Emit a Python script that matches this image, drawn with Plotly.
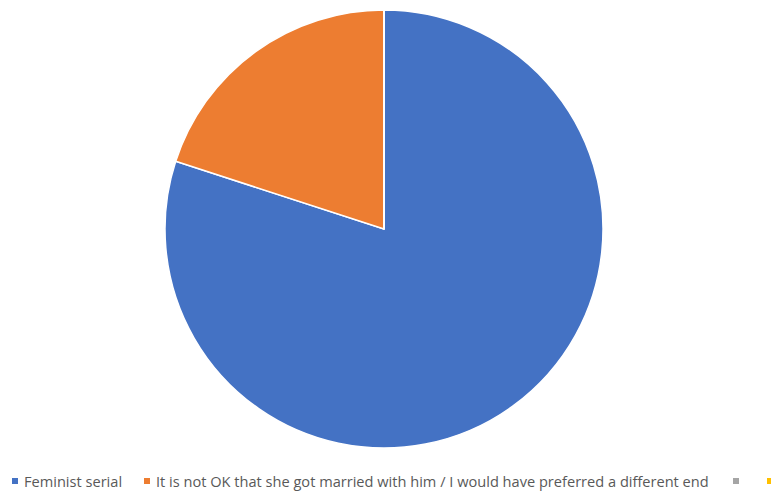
import plotly.graph_objects as go

labels = ["Feminist serial",
          "It is not OK that she got married with him / I would have preferred a different end",
          "", ""]
values = [80, 20, 0, 0]
colors = ["#4472C4", "#ED7D31", "#A5A5A5", "#FFC000"]

# page body has an 8px margin: the figure is drawn at (8, 8) in the 779x494 window
OFF = 8
W, H = 779 - OFF, 494 - OFF
cx, cy, r = 384 - OFF, 229 - OFF, 219


def px(x):
    return (x - OFF) / W


def py(y):
    return 1 - (y - OFF) / H


fig = go.Figure()
fig.add_trace(go.Pie(
    labels=[l if l else f"empty{i}" for i, l in enumerate(labels)],
    values=values,
    sort=False,
    direction="clockwise",
    rotation=0,
    textinfo="none",
    hoverinfo="label+value+percent",
    marker=dict(colors=colors, line=dict(color="white", width=1.5)),
    domain=dict(x=[(cx - r) / W, (cx + r) / W], y=[1 - (cy + r) / H, 1 - (cy - r) / H]),
    showlegend=False,
))

# manual legend (Excel style), positions in window pixels
marker_x = [12, 144, 733, 767]
ly = 481
shapes = []
annotations = []
for i, (lab, col) in enumerate(zip(labels, colors)):
    x0 = marker_x[i]
    shapes.append(dict(type="rect", xref="paper", yref="paper",
                       x0=px(x0), x1=px(x0 + 6),
                       y0=py(ly + 3), y1=py(ly - 3),
                       fillcolor=col, line=dict(width=0)))
    if lab:
        annotations.append(dict(text=lab, xref="paper", yref="paper",
                                x=px(x0 + 10), y=py(ly),
                                xanchor="left", yanchor="middle", showarrow=False,
                                font=dict(family="Open Sans, sans-serif", size=14.6, color="#595959")))

fig.update_layout(
    width=W, height=H,
    margin=dict(l=0, r=0, t=0, b=0),
    paper_bgcolor="white",
    plot_bgcolor="white",
    shapes=shapes,
    annotations=annotations,
)

fig.write_html("out.html")
